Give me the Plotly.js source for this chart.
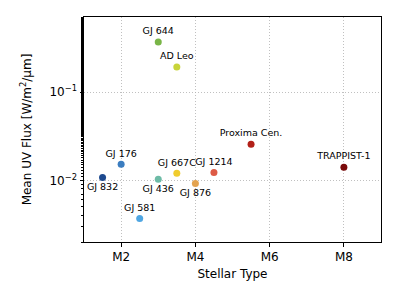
<!DOCTYPE html>
<html>
<head>
<meta charset="utf-8">
<script src="https://cdn.plot.ly/plotly-3.0.1.min.js"></script>
<style>html,body{margin:0;padding:0;background:#fff;}#plot{width:400px;height:300px;}</style>
</head>
<body>
<div id="plot"></div>
<script>
var stars = ["GJ 832","GJ 176","GJ 581","GJ 436","GJ 667C","GJ 876","GJ 1214","Proxima Cen.","TRAPPIST-1","GJ 644","AD Leo"];
var stellarType = [1.5, 2.0, 2.5, 3.0, 3.5, 4.0, 4.5, 5.5, 8.0, 3.0, 3.5];
var uvFlux = [0.0108, 0.0152, 0.0037, 0.0103, 0.0120, 0.0092, 0.0123, 0.0257, 0.0141, 0.37, 0.192];
var colors = ["#1d4a8f","#3b7dc0","#4fa6e2","#6dbba6","#f0cc2e","#e3a34f","#dd5a45","#b22018","#7a0a0a","#79b547","#c8d43a"];
var labelPos = ["bottom center","top center","top center","bottom center","top center","bottom center","top center","top center","top center","top center","top center"];
var xTickVals = [2, 4, 6, 8];
var xTickText = ["M2","M4","M6","M8"];
var yTickVals = [0.01, 0.1];
var yTickText = ["10<sup>\u22122</sup>","10<sup>\u22121</sup>"];

var trace = {
  x: stellarType, y: uvFlux, text: stars, mode: "markers+text", type: "scatter",
  textposition: labelPos,
  textfont: {family: "DejaVu Sans", size: 9.5, color: "#000"},
  marker: {size: 7, color: colors},
  hoverinfo: "none", cliponaxis: false
};
var layout = {
  width: 400, height: 300,
  margin: {l: 84, r: 19, t: 17, b: 58},
  paper_bgcolor: "#fff", plot_bgcolor: "#fff",
  showlegend: false,
  font: {family: "DejaVu Sans", size: 12, color: "#000"},
  xaxis: {
    range: [1, 9], tickvals: xTickVals, ticktext: xTickText,
    ticks: "outside", ticklen: 3.5, tickcolor: "#000",
    tickfont: {size: 12},
    showline: true, linecolor: "#000", linewidth: 1, mirror: true,
    showgrid: true, gridcolor: "#b0b0b0", griddash: "1px,2px", gridwidth: 0.8,
    zeroline: false,
    title: {text: "Stellar Type", font: {size: 12}, standoff: 6}
  },
  yaxis: {
    type: "log", range: [Math.log10(0.0020), Math.log10(0.71)],
    tickvals: yTickVals, ticktext: yTickText,
    tickfont: {size: 12},
    ticks: "outside", ticklen: 3.5, tickcolor: "#000",
    minor: {ticks: "outside", ticklen: 2, tickcolor: "#000", showgrid: false},
    showline: true, linecolor: "#000", linewidth: 1, mirror: true,
    showgrid: true, gridcolor: "#b0b0b0", griddash: "1px,2px", gridwidth: 0.8,
    zeroline: false,
    title: {text: "Mean UV Flux [W/m<sup>2</sup>/\u03bcm]", font: {size: 12}, standoff: 15}
  }
};
Plotly.newPlot("plot", [trace], layout, {staticPlot: true, displayModeBar: false});
</script>
</body>
</html>
